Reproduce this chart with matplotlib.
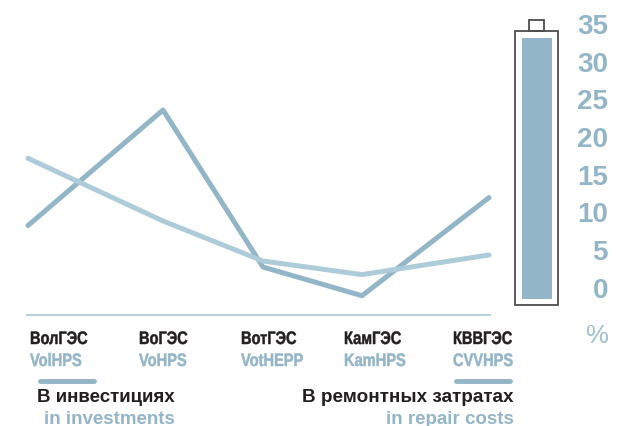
import matplotlib
matplotlib.use('Agg')
import matplotlib.pyplot as plt
import matplotlib.patheffects as pe
from matplotlib.patches import Rectangle
from matplotlib.transforms import Affine2D

plt.rcParams['font.family'] = ['Liberation Sans', 'DejaVu Sans']

W, H = 622, 426

# values in %
stations_ru = ['ВолГЭС', 'ВоГЭС', 'ВотГЭС', 'КамГЭС', 'КВВГЭС']
stations_en = ['VolHPS', 'VoHPS', 'VotHEPP', 'KamHPS', 'CVVHPS']
positions = [0, 1.35, 2.35, 3.34, 4.61]
investments = [9.6, 24.9, 4.1, 0.3, 13.3]
repairs = [18.5, 10.2, 4.9, 3.1, 5.7]
scale_ticks = [0, 5, 10, 15, 20, 25, 30, 35]
bar_value = 34.5

DARK = '#93b5c8'
LIGHT = '#aecbd9'
BLACK = '#231f20'
OUTLINE = '#4d4d4d'


class SqueezeX(pe.AbstractPathEffect):
    """No narrow bold font installed, so squeeze the glyphs sideways."""

    def __init__(self, x0, factor, stroke, color):
        super().__init__()
        self.x0 = x0
        self.factor = factor
        self.stroke = stroke
        self.color = color

    def draw_path(self, renderer, gc, tpath, affine, rgbFace=None):
        squeeze = Affine2D().translate(-self.x0, 0).scale(self.factor, 1).translate(self.x0, 0)
        # thin stroke, squeezing takes weight off the vertical stems
        gc0 = renderer.new_gc()
        gc0.copy_properties(gc)
        gc0.set_linewidth(self.stroke)
        gc0.set_foreground(self.color)
        renderer.draw_path(gc0, tpath, affine + squeeze, rgbFace)
        gc0.restore()


fig = plt.figure(figsize=(W / 100, H / 100), dpi=100)


def px_axes(x0, x1, y_top, y_bottom):
    return fig.add_axes([x0 / W, 1 - y_bottom / H, (x1 - x0) / W, (y_bottom - y_top) / H])


# y: 0 sits at pixel 298, 7.55 px per percent
ymin = (298 - 315) / 7.55
ymax = 298 / 7.55
ax = px_axes(27, 490, 0, 315)
ax.set_xlim(-0.01, 4.62)
ax.set_ylim(ymin, ymax)
ax.plot(positions, investments, color=DARK, lw=3.6, solid_capstyle='round', solid_joinstyle='round', clip_on=False)
ax.plot(positions, repairs, color=LIGHT, lw=3.6, solid_capstyle='round', solid_joinstyle='round', clip_on=False)
for side in ['top', 'left', 'right']:
    ax.spines[side].set_visible(False)
ax.spines['bottom'].set_color(LIGHT)
ax.spines['bottom'].set_linewidth(1.3)
ax.set_yticks([])
ax.set_xticks([])
ax.patch.set_alpha(0)

# station names under the axis
label_x = [30, 139, 241, 344, 453]
for x, ru, en in zip(label_x, stations_ru, stations_en):
    fig.text(x / W, 1 - 344 / H, ru, color=BLACK, fontsize=13, fontweight='bold',
             va='baseline', ha='left', path_effects=[SqueezeX(x, 0.81, 0.35, BLACK)])
    fig.text(x / W, 1 - 366 / H, en, color=DARK, fontsize=13, fontweight='bold',
             va='baseline', ha='left', path_effects=[SqueezeX(x, 0.81, 0.35, DARK)])

# battery-like bar on the right
bx = px_axes(490, 622, 0, 315)
bx.set_xlim(490, 622)
bx.set_ylim(ymin, ymax)
bx.axis('off')
bx.bar(537, bar_value, width=30, bottom=-0.1, color=DARK)
y_px = lambda p: (298 - p) / 7.55
bx.add_patch(Rectangle((515, y_px(305)), 43, y_px(31) - y_px(305), fill=False,
                       ec=OUTLINE, lw=1.3, clip_on=False))
bx.add_patch(Rectangle((529, y_px(31)), 15, y_px(20) - y_px(31), fill=False,
                       ec=OUTLINE, lw=1.3, clip_on=False))

# percent scale, glyph bottoms sit on the value
for v in scale_ticks:
    bx.text(608, v, str(v), color=DARK, fontsize=20, fontweight='bold', va='baseline',
            ha='right', clip_on=False)
fig.text(597 / W, 1 - 336 / H, '%', color='#9fc0d1', fontsize=18.5, ha='center', va='center')

# legend
fig.add_artist(plt.Line2D([40 / W, 94 / W], [1 - 381 / H] * 2, color=DARK, lw=3.5,
                          solid_capstyle='round'))
fig.add_artist(plt.Line2D([456 / W, 510 / W], [1 - 381 / H] * 2, color=DARK, lw=3.5,
                          solid_capstyle='round'))
fig.text(175 / W, 1 - 402 / H, 'В инвестициях', color=BLACK, fontsize=13.5, fontweight='bold', ha='right')
fig.text(175 / W, 1 - 424 / H, 'in investments', color=DARK, fontsize=13.5, fontweight='bold', ha='right')
fig.text(514 / W, 1 - 402 / H, 'В ремонтных затратах', color=BLACK, fontsize=13.6, fontweight='bold', ha='right')
fig.text(514 / W, 1 - 424 / H, 'in repair costs', color=DARK, fontsize=13.5, fontweight='bold', ha='right')

fig.savefig('out.png', dpi=100)
